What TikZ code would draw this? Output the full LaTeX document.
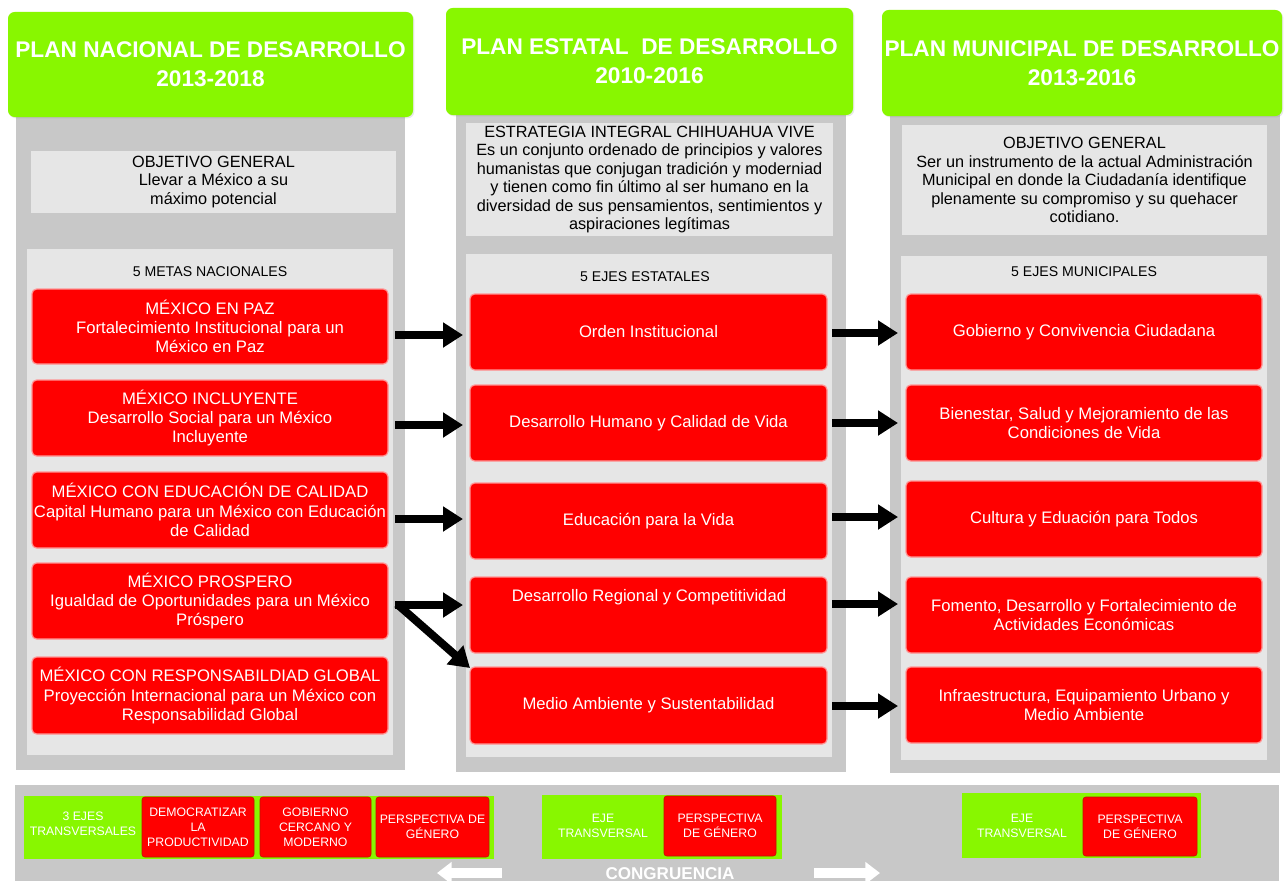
\documentclass[tikz,border=0pt]{standalone}
\usepackage{fontspec}
\setmainfont{Liberation Sans}
\usetikzlibrary{arrows.meta,shadows}
\definecolor{hgreen}{RGB}{136,247,0}
\definecolor{pgray}{RGB}{200,200,200}
\definecolor{lgray}{RGB}{230,230,230}
\definecolor{bred}{RGB}{255,0,0}
\definecolor{redge}{RGB}{255,150,150}
\definecolor{dredge}{RGB}{190,20,0}
\newcommand\bx[7]{\node[#6, minimum width={(#4-#2)*0.75pt}, minimum height={(#5-#3)*0.75pt}] (#1) at ({(#2+#4)/2},{(#3+#5)/2}) {#7};}
\tikzset{
  header/.style={fill=hgreen, rounded corners=5pt, text=white, align=center, inner sep=0pt,
    font=\bfseries\fontsize{17}{21.5}\selectfont,
    drop shadow={shadow xshift=1pt, shadow yshift=-1pt, opacity=0.18}},
  panel/.style={fill=pgray, inner sep=0pt},
  lightbox/.style={fill=lgray, inner sep=0pt, align=center, font=\fontsize{12.2}{13.8}\selectfont},
  lbl/.style={inner sep=0pt, font=\fontsize{10.6}{12}\selectfont},
  redbox/.style={fill=bred, draw=redge, line width=0.9pt, rounded corners=3.5pt, text=white,
    align=center, inner sep=1pt, font=\fontsize{12.5}{14.4}\selectfont},
  gbox/.style={fill=hgreen, inner sep=0pt},
  gtxt/.style={text=white, align=center, inner sep=0pt, font=\fontsize{9.2}{11.2}\selectfont},
  rbox/.style={fill=bred, draw=dredge, line width=0.4pt, rounded corners=2pt, text=white,
    align=center, inner sep=0pt, font=\fontsize{9.2}{11.2}\selectfont},
  blk/.style={line width=6pt, -{Triangle[length=15pt,width=18pt]}},
  wht/.style={draw=white, line width=7pt, -{Triangle[length=11pt,width=16pt]}},
}
\begin{document}
\begin{tikzpicture}[x=0.75pt,y=-0.75pt]
\useasboundingbox (0,0) rectangle (1284,881);
\fill[white] (0,0) rectangle (1284,881);

% ---------- Column 1 ----------
\bx{p1}{16}{112}{405}{770}{panel}{}
\bx{h1}{8}{12}{413}{117}{header}{PLAN NACIONAL DE DESARROLLO\\2013-2018}
\bx{o1}{31}{151}{396}{213}{lightbox}{OBJETIVO GENERAL\\Llevar a México a su\\máximo potencial}
\bx{m1}{27}{249}{393}{755}{lightbox}{}
\node[lbl] (m1t) at (210,272) {5 METAS NACIONALES};
\bx{r11}{32}{289}{388}{364}{redbox}{MÉXICO EN PAZ\\Fortalecimiento Institucional para un\\México en Paz}
\bx{r12}{32}{380}{388}{456}{redbox}{MÉXICO INCLUYENTE\\Desarrollo Social para un México\\Incluyente}
\bx{r13}{32}{472}{388}{548}{redbox}{MÉXICO CON EDUCACIÓN DE CALIDAD\\Capital Humano para un México con Educación\\de Calidad}
\bx{r14}{32}{563}{388}{639}{redbox}{MÉXICO PROSPERO\\Igualdad de Oportunidades para un México\\Próspero}
\bx{r15}{32}{657}{388}{734}{redbox}{MÉXICO CON RESPONSABILDIAD GLOBAL\\Proyección Internacional para un México con\\Responsabilidad Global}

% ---------- Column 2 ----------
\bx{p2}{456}{110}{846}{772}{panel}{}
\bx{h2}{446}{8}{853}{115}{header}{PLAN ESTATAL\ \ DE DESARROLLO\\2010-2016}
\bx{o2}{466}{123}{833}{236}{lightbox}{ESTRATEGIA INTEGRAL CHIHUAHUA VIVE\\Es un conjunto ordenado de principios y valores\\humanistas que conjugan tradición y moderniad\\y tienen como fin último al ser humano en la\\diversidad de sus pensamientos, sentimientos y\\aspiraciones legítimas}
\bx{m2}{466}{254}{832}{757}{lightbox}{}
\node[lbl] (m2t) at (645,277) {5 EJES ESTATALES};
\bx{r21}{470}{294}{827}{370}{redbox}{Orden Institucional}
\bx{r22}{470}{385}{827}{461}{redbox}{Desarrollo Humano y Calidad de Vida}
\bx{r23}{470}{483}{827}{559}{redbox}{Educación para la Vida}
\bx{r24}{470}{577}{827}{653}{redbox}{}
\node[text=white, inner sep=0pt, font=\fontsize{12.5}{14.4}\selectfont] (r24t) at (649,597) {Desarrollo Regional y Competitividad};
\bx{r25}{470}{667}{827}{744}{redbox}{Medio Ambiente y Sustentabilidad}

% ---------- Column 3 ----------
\bx{p3}{890}{112}{1280}{773}{panel}{}
\bx{h3}{882}{10}{1282}{116}{header}{PLAN MUNICIPAL DE DESARROLLO\\2013-2016}
\bx{o3}{902}{125}{1267}{235}{lightbox}{OBJETIVO GENERAL\\Ser un instrumento de la actual Administración\\Municipal en donde la Ciudadanía identifique\\plenamente su compromiso y su quehacer\\cotidiano.}
\bx{m3}{901}{256}{1267}{760}{lightbox}{}
\node[lbl] (m3t) at (1084,272) {5 EJES MUNICIPALES};
\bx{r31}{906}{294}{1262}{370}{redbox}{Gobierno y Convivencia Ciudadana}
\bx{r32}{906}{385}{1262}{461}{redbox}{Bienestar, Salud y Mejoramiento de las\\Condiciones de Vida}
\bx{r33}{906}{481}{1262}{557}{redbox}{Cultura y Eduación para Todos}
\bx{r34}{906}{577}{1262}{653}{redbox}{Fomento, Desarrollo y Fortalecimiento de\\Actividades Económicas}
\bx{r35}{906}{667}{1262}{743}{redbox}{Infraestructura, Equipamiento Urbano y\\Medio Ambiente}

% ---------- Black arrows ----------
\coordinate (a1s) at (395,335); \coordinate (a1e) at (463,335);
\coordinate (a2s) at (395,425); \coordinate (a2e) at (463,425);
\coordinate (a3s) at (395,519); \coordinate (a3e) at (463,519);
\coordinate (a4s) at (395,605); \coordinate (a4e) at (463,605);
\coordinate (a5s) at (397,604); \coordinate (a5e) at (470,668);
\coordinate (b1s) at (832,333); \coordinate (b1e) at (898,333);
\coordinate (b2s) at (832,423); \coordinate (b2e) at (898,423);
\coordinate (b3s) at (832,517); \coordinate (b3e) at (898,517);
\coordinate (b4s) at (832,604); \coordinate (b4e) at (898,604);
\coordinate (b5s) at (832,706); \coordinate (b5e) at (898,706);
\foreach \n in {a1,a2,a3,a4,a5,b1,b2,b3,b4,b5} {\draw[blk] (\n s) -- (\n e);}

% ---------- Bottom band ----------
\bx{band}{15}{785}{1279}{881}{panel}{}
\bx{g1}{24}{796}{494}{859}{gbox}{}
\node[gtxt] (g1t) at (83,824) {3 EJES\\TRANSVERSALES};
\bx{b11}{142}{797}{254}{857}{rbox}{DEMOCRATIZAR\\LA\\PRODUCTIVIDAD}
\bx{b12}{260}{797}{371}{857}{rbox}{GOBIERNO\\CERCANO Y\\MODERNO}
\bx{b13}{376}{797}{489}{857}{rbox}{PERSPECTIVA DE\\GÉNERO}
\bx{g2}{542}{795}{782}{859}{gbox}{}
\node[gtxt] (g2t) at (603,826) {EJE\\TRANSVERSAL};
\bx{b21}{664}{796}{776}{856}{rbox}{PERSPECTIVA\\DE GÉNERO}
\bx{g3}{962}{793}{1201}{858}{gbox}{}
\node[gtxt] (g3t) at (1022,826) {EJE\\TRANSVERSAL};
\bx{b31}{1083}{797}{1197}{856}{rbox}{PERSPECTIVA\\DE GÉNERO}

\node[text=white, inner sep=0pt, anchor=base, font=\bfseries\fontsize{12.8}{14}\selectfont] (cg) at (670,879) {CONGRUENCIA};
\coordinate (wls) at (502,873); \coordinate (wle) at (437,873);
\coordinate (wrs) at (814,873); \coordinate (wre) at (880,873);
\draw[wht] (wls) -- (wle);
\draw[wht] (wrs) -- (wre);
\end{tikzpicture}
\end{document}
